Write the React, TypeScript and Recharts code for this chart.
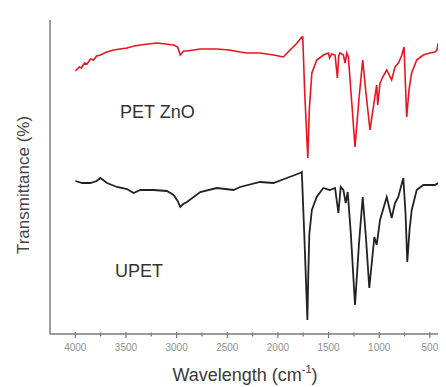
import React from "react";
import { LineChart, Line, XAxis, YAxis } from "recharts";

// Wavenumber (cm-1) and transmittance (arbitrary units)
const petZnoWave = [4000, 3960, 3940, 3910, 3885, 3850, 3820, 3790, 3753, 3690, 3622, 3560, 3490, 3420, 3359, 3280, 3194, 3110, 3030, 2990, 2964, 2930, 2898, 2767, 2603, 2480, 2373, 2306, 2176, 2044, 1946, 1880, 1820, 1764, 1755, 1735, 1705, 1690, 1665, 1617, 1550, 1502, 1490, 1470, 1436, 1413, 1400, 1387, 1354, 1337, 1320, 1305, 1270, 1239, 1200, 1163, 1130, 1091, 1058, 1025, 1015, 992, 960, 926, 877, 844, 811, 780, 755, 729, 705, 680, 630, 565, 500, 450, 430, 417];
const petZnoT = [263, 267, 266, 271, 270, 275, 274, 278, 279, 282, 284, 285, 286, 288, 289, 290, 291, 290, 289, 287, 279, 283, 283, 285, 285, 284, 282, 281, 281, 279, 277, 284, 290, 297, 297, 240, 176, 225, 261, 274, 279, 281, 276, 280, 279, 256, 278, 281, 279, 271, 281, 277, 230, 187, 235, 274, 240, 204, 227, 249, 229, 251, 258, 264, 254, 267, 271, 278, 287, 217, 245, 261, 274, 279, 281, 282, 284, 291];

const upetWave = [4000, 3930, 3852, 3790, 3753, 3687, 3589, 3490, 3425, 3359, 3230, 3096, 3030, 2990, 2964, 2935, 2898, 2767, 2603, 2439, 2373, 2176, 2044, 1912, 1781, 1764, 1740, 1709, 1700, 1690, 1665, 1617, 1552, 1487, 1436, 1403, 1380, 1354, 1331, 1311, 1280, 1239, 1200, 1163, 1130, 1098, 1048, 1025, 992, 926, 877, 844, 812, 762, 740, 723, 700, 679, 630, 565, 499, 450, 417];
const upetT = [153, 151, 151, 153, 156, 151, 147, 145, 141, 144, 144, 143, 139, 133, 127, 130, 132, 142, 146, 144, 147, 152, 151, 156, 161, 162, 100, 14, 60, 100, 124, 137, 146, 144, 146, 121, 147, 144, 131, 142, 100, 29, 90, 137, 95, 46, 97, 89, 114, 137, 116, 131, 137, 156, 120, 72, 105, 124, 144, 149, 149, 149, 151];

const xTicks = [4000, 3750, 3500, 3250, 3000, 2750, 2500, 2250, 2000, 1750, 1500, 1250, 1000, 750, 500];
const seriesLabels = ["PET ZnO", "UPET"];

const petZnoData = petZnoWave.map((w, i) => ({ w, t: petZnoT[i] }));
const upetData = upetWave.map((w, i) => ({ w, t: upetT[i] }));

const AXIS = "#7a7a7a";

const XTick = (props: any) => {
  const { x, y, payload } = props;
  const major = payload.value % 500 === 0;
  return (
    <g>
      <line x1={x} x2={x} y1={y - (major ? 2 : 1.5)} y2={y + (major ? 4 : 2.5)} stroke={AXIS} strokeWidth={1.2} />
      {major && (
        <text x={x} y={y + 17} textAnchor="middle" fontSize={10} fill="#909090" fontFamily="Liberation Sans, Arial, sans-serif">
          {payload.value}
        </text>
      )}
    </g>
  );
};

const XLabel = (props: any) => {
  const vb = props.viewBox || {};
  const cx = vb.x + vb.width / 2;
  return (
    <text x={cx} y={373} textAnchor="middle" fontSize={18} fill="#3a3a3a" fontFamily="Liberation Sans, Arial, sans-serif">
      <tspan>Wavelength (cm</tspan>
      <tspan fontSize={11} dy={-8}>-1</tspan>
      <tspan dy={8}>)</tspan>
    </text>
  );
};

export default function App() {
  return (
    <div style={{ position: "relative", width: 438, height: 379 }}>
      <LineChart width={438} height={379} data={petZnoData} margin={{ top: 12, right: 6, left: 0, bottom: 0 }}>
        <XAxis
          dataKey="w"
          type="number"
          domain={[400, 4250]}
          reversed
          ticks={xTicks}
          interval={0}
          tickLine={false}
          tickSize={0}
          tickMargin={0}
          tick={<XTick />}
          height={53}
          axisLine={{ stroke: AXIS, strokeWidth: 1.5 }}
          label={<XLabel />}
          allowDataOverflow
        />
        <YAxis
          type="number"
          domain={[0, 314]}
          width={42}
          tick={false}
          tickLine={false}
          axisLine={{ stroke: AXIS, strokeWidth: 1.5 }}
          label={{
            value: "Transmittance (%)",
            angle: -90,
            position: "insideLeft",
            dx: 10,
            dy: 8,
            style: { textAnchor: "middle", fontSize: 17, fill: "#444", fontFamily: "Liberation Sans, Arial, sans-serif" },
          }}
          allowDataOverflow
        />
        <Line data={petZnoData} dataKey="t" type="linear" stroke="#e8141e" strokeWidth={1.6} dot={false} isAnimationActive={false} />
        <Line data={upetData} dataKey="t" type="linear" stroke="#222222" strokeWidth={1.8} dot={false} isAnimationActive={false} />
      </LineChart>
      <svg width={438} height={379} style={{ position: "absolute", left: 0, top: 0, pointerEvents: "none" }}>
        <text x={112} y={110} fontSize={18} fill="#333" fontFamily="Liberation Sans, Arial, sans-serif">{seriesLabels[0]}</text>
        <text x={107} y={269} fontSize={18} fill="#333" fontFamily="Liberation Sans, Arial, sans-serif">{seriesLabels[1]}</text>
      </svg>
    </div>
  );
}
